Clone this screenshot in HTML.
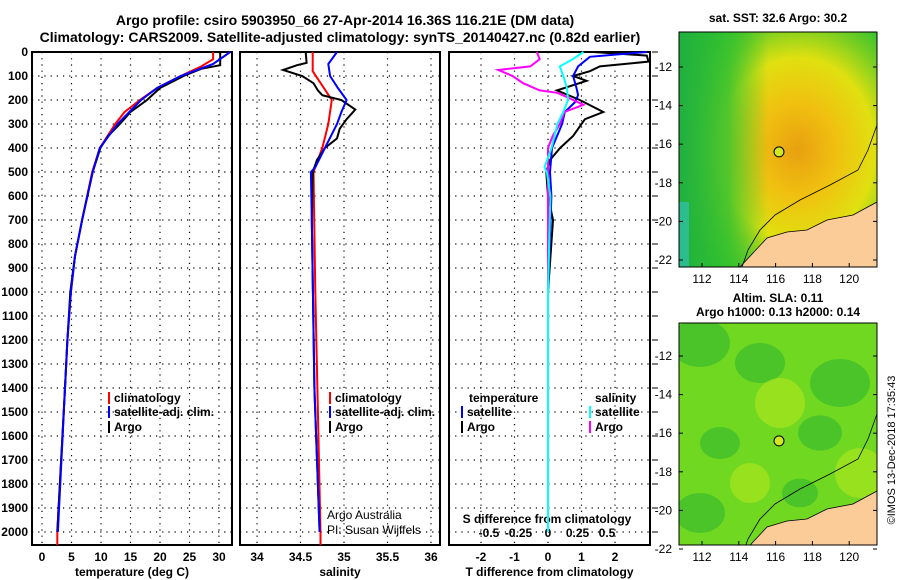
<!DOCTYPE html>
<html><head><meta charset="utf-8"><style>
body{margin:0;background:#fff}
svg{display:block;font-family:"Liberation Sans",sans-serif;font-weight:bold}
</style></head><body>
<svg id="s" width="900" height="580" viewBox="0 0 900 580">
<text x="345" y="25" font-size="14" text-anchor="middle">Argo profile: csiro 5903950_66 27-Apr-2014 16.36S 116.21E (DM data)</text>
<text x="340" y="42" font-size="14" text-anchor="middle">Climatology: CARS2009. Satellite-adjusted climatology: synTS_20140427.nc (0.82d earlier)</text>
<defs>
<radialGradient id="sst" cx="0.6" cy="0.5" r="0.65"><stop offset="0" stop-color="#e8a010"/><stop offset="0.3" stop-color="#f0c010"/><stop offset="0.6" stop-color="#e0e010"/><stop offset="0.8" stop-color="#80d020"/><stop offset="1" stop-color="#30c030"/></radialGradient>
<linearGradient id="sstL" x1="0" x2="1"><stop offset="0" stop-color="#20b040"/><stop offset="0.25" stop-color="#30c030" stop-opacity="0.8"/><stop offset="0.45" stop-color="#30c030" stop-opacity="0"/></linearGradient>
<clipPath id="c1"><rect x="679" y="32" width="198" height="235"/></clipPath>
<clipPath id="c2"><rect x="679" y="323" width="198" height="222"/></clipPath>
</defs>
<g id="maps"></g>
<g id="plots"></g>
<text x="778" y="22" font-size="12" text-anchor="middle">sat. SST: 32.6 Argo: 30.2</text>
<text x="778" y="302" font-size="12" text-anchor="middle">Altim. SLA: 0.11</text>
<text x="778" y="316" font-size="12" text-anchor="middle">Argo h1000: 0.13 h2000: 0.14</text>
<text transform="translate(895,450) rotate(-90)" font-size="11" font-weight="normal" text-anchor="middle">©IMOS 13-Dec-2018 17:35:43</text>
</svg>
<script>
const NS='http://www.w3.org/2000/svg';
const plots=document.getElementById('plots');
const maps=document.getElementById('maps');
function mk(tag,attrs,parent){const e=document.createElementNS(NS,tag);for(const k in attrs)e.setAttribute(k,attrs[k]);(parent||plots).appendChild(e);return e;}

// ---- data ----
const depthTicks=[0,100,200,300,400,500,600,700,800,900,1000,1100,1200,1300,1400,1500,1600,1700,1800,1900,2000];
const tempTicks=[0,5,10,15,20,25,30];
const salTicks=[34,34.5,35,35.5,36];
const dTTicks=[-2,-1,0,1,2];
const dSTicks=[-0.5,-0.25,0,0.25,0.5];
const dSTickLabels=['-0.5','-0.25','0','0.25','0.5'];

const tClimDepth=[0,30,60,100,150,200,250,300,400,500,700,850,1000,1200,1400,2000,2054];
const tClim=[29,29,27,23.5,19.5,16.6,14,12.4,9.8,8.5,6.8,5.6,4.9,4.3,3.9,2.6,2.6];
const tSatDepth=[0,50,100,150,200,300,400,500,700,850,1000,1200,1400,2000];
const tSat=[31.9,29,23.5,19.5,16.8,12.8,9.8,8.6,6.8,5.6,4.9,4.3,3.9,2.7];
const tArgoDepth=[0,55,70,100,150,200,250,300,350,400,500,700,850,1000,1200,1400,2000];
const tArgo=[30.2,30.2,27,24,20,17.8,15,13.2,11.2,9.9,8.6,6.8,5.6,4.8,4.3,3.9,2.6];

const sClimDepth=[0,80,200,300,400,500,1000,2000,2054];
const sClim=[34.64,34.64,34.86,34.82,34.75,34.65,34.67,34.73,34.73];
const sSatDepth=[0,50,100,150,200,250,300,400,480,500,700,1400,2000];
const sSat=[34.92,34.82,34.84,34.93,35.03,34.97,34.92,34.78,34.67,34.62,34.63,34.66,34.72];
const sArgoDepth=[0,45,55,75,100,130,160,180,200,240,280,320,360,400,450,500,700,1400,2000];
const sArgo=[34.56,34.57,34.46,34.3,34.52,34.65,34.7,34.75,34.97,35.13,35.03,34.95,34.92,34.78,34.69,34.64,34.63,34.66,34.72];

const dTArgoDepth=[0,15,40,60,80,100,120,160,200,250,280,350,400,450,500,600,700,1000,1500,2000];
const dTArgo=[1.35,2.95,3,1.55,1.25,0.75,1.15,0.27,0.95,1.65,1.1,0.75,0.36,0.06,-0.05,0,0.15,0,0,0];
const dTSatDepth=[0,20,60,100,150,180,210,250,300,400,500,600,1000,2000];
const dTSat=[2.95,1.25,0.9,0.75,0.85,0.9,0.8,0.5,0.42,0.12,0.06,0.1,0,0];
const dSArgoDepth=[0,30,60,75,100,130,160,170,190,220,250,300,350,400,500,1000,2000];
const dSArgo=[-0.095,-0.07,-0.15,-0.42,-0.3,-0.21,-0.07,0.08,0.17,0.3,0.14,0.1,0.04,0,0,0,0];
const dSSatDepth=[0,30,60,100,150,200,250,300,400,480,500,600,1000,2000];
const dSSat=[0.3,0.21,0.1,0.13,0.16,0.17,0.13,0.08,0.03,-0.03,-0.01,0.02,0,0];

// ---- axes ----
const yTop=52, yBot=545;
const yD=d=>yTop+d*0.24;
const xT=t=>42+5.9*t;
const xS=s=>257+87*(s-34);
const xDT=v=>548+33.5*v;
const xDS=v=>548+118*v;

function panel(x0,x1,name,ticks,xf,labels,xlabel){
  const g=mk('g',{});
  
  
  depthTicks.forEach(d=>{const l=mk('line',{x1:x0,x2:x1,y1:yD(d),y2:yD(d),stroke:'#000','stroke-width':1.2,'stroke-dasharray':'1.2,5'},g);
    });
  ticks.forEach((t,i)=>{const x=xf(t);
    const l=mk('line',{x1:x,x2:x,y1:yTop,y2:yBot,stroke:'#000','stroke-width':1.2,'stroke-dasharray':'1.2,5'},g);
    
    const tx=mk('text',{x:x,y:561,'font-size':12,'text-anchor':'middle'},g);tx.textContent=labels[i];
    
  });
  const r=mk('rect',{x:x0,y:yTop,width:x1-x0,height:yBot-yTop,fill:'none',stroke:'#000','stroke-width':2},g);
  
  const xl=mk('text',{x:(x0+x1)/2,y:576,'font-size':12,'text-anchor':'middle'},g);xl.textContent=xlabel;
  
}
panel(32,232,'temperature-panel',tempTicks,xT,tempTicks.map(String),'temperature (deg C)');
panel(240,440,'salinity-panel',salTicks,xS,salTicks.map(String),'salinity');
panel(449,650,'difference-panel',dTTicks,xDT,dTTicks.map(String),'T difference from climatology');
depthTicks.forEach(d=>{const t=mk('text',{x:28,y:yD(d)+4,'font-size':12,'text-anchor':'end'});t.textContent=d;
  
  const r=mk('line',{x1:652,x2:658,y1:yD(d),y2:yD(d),stroke:'#000'});
  });
dSTicks.forEach((v,i)=>{const t=mk('text',{x:xDS(v),y:537,'font-size':12,'text-anchor':'middle'});t.textContent=dSTickLabels[i];
  });
{const t=mk('text',{x:547,y:523,'font-size':12,'text-anchor':'middle'});t.textContent='S difference from climatology';
 }

function line(depths,vals,xf,color,name,x0,x1){
  const pts=depths.map((d,i)=>[Math.max(x0,Math.min(x1,xf(vals[i]))),yD(d)]);
  const p=mk('path',{d:'M'+pts.map(p=>p[0].toFixed(1)+','+p[1].toFixed(1)).join('L'),fill:'none',stroke:color,'stroke-width':2});
  
}
line(tClimDepth,tClim,xT,'#f00','temp-climatology-line',32,232);
line(tArgoDepth,tArgo,xT,'#000','temp-argo-line',32,232);
line(tSatDepth,tSat,xT,'#00f','temp-satellite-line',32,232);
line(sClimDepth,sClim,xS,'#f00','sal-climatology-line',240,440);
line(sArgoDepth,sArgo,xS,'#000','sal-argo-line',240,440);
line(sSatDepth,sSat,xS,'#00f','sal-satellite-line',240,440);
line(dTArgoDepth,dTArgo,xDT,'#000','dT-argo-line',449,650);
line(dTSatDepth,dTSat,xDT,'#00f','dT-satellite-line',449,650);
line(dSArgoDepth,dSArgo,xDS,'#f0f','dS-argo-line',449,650);
line(dSSatDepth,dSSat,xDS,'#0ff','dS-satellite-line',449,650);

function leg(x,y,color,label,name){
  const g=mk('g',{});
  if(color)mk('rect',{x:x,y:y-10,width:2,height:12,fill:color},g);
  const t=mk('text',{x:x+(color?6:0),y:y,'font-size':12},g);t.textContent=label;
}
leg(108,402,'#f00','climatology','legend-climatology');
leg(108,416,'#00f','satellite-adj. clim.','legend-satellite');
leg(108,431,'#000','Argo','legend-argo');
leg(329,402,'#f00','climatology','legend-sal-climatology');
leg(329,416,'#00f','satellite-adj. clim.','legend-sal-satellite');
leg(329,431,'#000','Argo','legend-sal-argo');
leg(469,402,null,'temperature','legend-temperature-header');
leg(461,416,'#00f','satellite','legend-t-satellite');
leg(461,431,'#000','Argo','legend-t-argo');
leg(595,402,null,'salinity','legend-salinity-header');
leg(589,416,'#0ff','satellite','legend-s-satellite');
leg(589,431,'#f0f','Argo','legend-s-argo');
{const t=mk('text',{x:327,y:519,'font-size':12,'font-weight':'normal'});t.textContent='Argo Australia';
 
 const t2=mk('text',{x:327,y:534,'font-size':12,'font-weight':'normal'});t2.textContent='PI: Susan Wijffels';
 }

// ---- maps ----
const lonTicks=[112,114,116,118,120];
const latTicks=[-12,-14,-16,-18,-20,-22];
const coast=[[877,202],[853,215],[827,220],[807,230],[787,232],[767,238],[753,253],[740,267]];
const isobath=[[877,125],[868,150],[858,170],[830,185],[800,200],[775,215],[760,230],[748,250],[742,267]];
function map(top,h,lat12,kind,clip,name){
  const g=mk('g',{'clip-path':'url(#'+clip+')'},maps);
  
  const off=lat12-67;
  if(kind==='sst'){
    mk('rect',{x:679,y:top,width:198,height:h,fill:'url(#sst)'},g);
    mk('rect',{x:679,y:top,width:198,height:h,fill:'url(#sstL)'},g);
    mk('rect',{x:679,y:top+170,width:10,height:65,fill:'#30c0b0',opacity:0.7},g);
  } else {
    mk('rect',{x:679,y:top,width:198,height:h,fill:'#70d820'},g);
    [[700,20,30],[760,40,25],[840,60,30],[720,120,20],[820,110,22],[700,190,25],[800,170,18]].forEach(b=>
      mk('ellipse',{cx:b[0],cy:top+b[1],rx:b[2],ry:b[2]*0.8,fill:'#30b830',opacity:0.6},g));
    [[780,80,25],[860,150,25],[750,160,20]].forEach(b=>mk('ellipse',{cx:b[0],cy:top+b[1],rx:b[2],ry:b[2],fill:'#b0e820',opacity:0.6},g));
  }
  const cp=coast.map(p=>[p[0],p[1]+off]);
  mk('path',{d:'M'+cp.map(p=>p.join(',')).join('L')+'L740,'+(top+h)+'L877,'+(top+h)+'Z',fill:'#fccc98',stroke:'#000','stroke-width':0.8},g);
  mk('path',{d:'M'+isobath.map(p=>p[0]+','+(p[1]+off)).join('L'),fill:'none',stroke:'#000','stroke-width':0.8},g);
  const c=mk('circle',{cx:779,cy:lat12+19.3*4.4,r:5,fill:'#d0e820',stroke:'#000','stroke-width':1},maps);
  
  const f=mk('rect',{x:679,y:top,width:198,height:h,fill:'none',stroke:'#000','stroke-width':1},maps);
  
  latTicks.forEach(l=>{const y=lat12+19.3*(-12-l);
    const t=mk('text',{x:672,y:y+4,'font-size':12,'text-anchor':'end','font-weight':'normal'},maps);t.textContent=l;
    
    mk('line',{x1:679,x2:683,y1:y,y2:y,stroke:'#000'},maps);mk('line',{x1:873,x2:877,y1:y,y2:y,stroke:'#000'},maps);});
  lonTicks.forEach(l=>{const x=702+18.4*(l-112);
    const t=mk('text',{x:x,y:top+h+16,'font-size':12,'text-anchor':'middle','font-weight':'normal'},maps);t.textContent=l;
    
    mk('line',{x1:x,x2:x,y1:top+h-4,y2:top+h,stroke:'#000'},maps);});
}
map(32,235,67,'sst','c1','sst-map');
map(323,222,356,'sla','c2','sla-map');
</script>
</body></html>
